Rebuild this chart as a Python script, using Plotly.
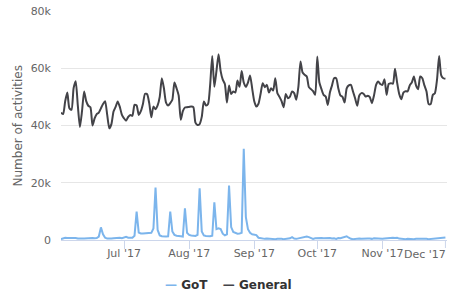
import pandas as pd
import plotly.graph_objects as go

start_date = "2017-06-01"

# Daily activity counts, in thousands, Jun 1 - Dec 1 2017
general_k = [
    44.5, 44.0, 48.5, 51.5, 46.0, 45.5, 53.0, 55.5, 47.0, 39.5,
    45.0, 51.9, 48.5, 46.9, 46.4, 40.0, 42.5, 44.0, 44.5, 46.0,
    47.5, 48.5, 43.7, 39.0, 40.5, 44.9, 46.5, 48.4, 46.5, 43.7,
    42.5, 41.7, 43.0, 43.7, 43.4, 47.2, 47.0, 43.7, 45.0, 47.5,
    51.1, 50.9, 47.8, 42.9, 46.6, 45.7, 47.0, 50.0, 56.5, 53.0,
    48.0, 47.0, 47.8, 49.0, 55.0, 53.0, 50.5, 42.0, 45.0, 46.3,
    46.4, 46.5, 46.6, 46.4, 41.0, 40.2, 40.5, 43.0, 48.4, 47.0,
    47.5, 54.2, 64.3, 53.5, 59.0, 64.9, 59.0, 56.0, 54.5, 48.0,
    54.0, 51.0, 51.9, 51.5, 55.7, 53.5, 59.0, 55.0, 53.5, 55.0,
    57.5, 53.0, 48.5, 46.6, 47.6, 51.0, 54.8, 53.4, 54.2, 51.5,
    53.0, 52.2, 56.5, 51.3, 50.0, 48.5, 46.4, 51.0, 49.5, 50.1,
    51.9, 51.3, 49.0, 53.5, 62.4, 58.5, 57.7, 57.1, 53.4, 52.7,
    52.0, 50.7, 64.1, 55.0, 52.7, 50.7, 50.1, 47.2, 51.5, 54.0,
    56.5, 56.5, 53.0, 50.5, 50.0, 48.0, 53.0, 54.0, 54.2, 51.9,
    49.5, 46.9, 50.5, 51.3, 51.1, 50.1, 50.4, 49.9, 47.8, 50.5,
    54.2, 55.4, 54.5, 54.2, 56.2, 50.7, 54.5, 54.8, 54.6, 59.8,
    55.0, 51.0, 49.2, 51.5, 52.0, 51.9, 54.0, 55.0, 57.1, 54.0,
    52.7, 57.1, 56.5, 54.0, 51.9, 47.5, 47.5, 50.7, 51.3, 56.0,
    64.3, 57.5, 56.5, 56.3,
]

got_k = [
    0.3, 0.6, 0.8, 0.7, 0.7, 0.8, 0.6, 0.7, 0.5, 0.6,
    0.5, 0.5, 0.6, 0.5, 0.6, 0.7, 0.6, 0.7, 1.2, 4.4,
    2.0, 0.8, 0.5, 0.4, 0.5, 0.6, 0.7, 0.9, 0.8, 0.6,
    0.9, 1.1, 0.8, 0.7, 0.8, 1.5, 9.9, 2.6, 2.3, 2.3,
    2.4, 2.3, 2.4, 2.5, 4.0, 18.3, 3.5, 1.6, 1.3, 1.2,
    1.2, 1.3, 9.9, 3.0, 1.8, 1.5, 1.5, 1.3, 1.2, 11.1,
    2.5, 1.8, 1.6, 1.5, 1.4, 1.8, 18.1, 3.0, 1.6, 1.4,
    1.3, 1.3, 1.5, 13.2, 3.8, 4.1, 3.8, 2.2, 1.6, 2.0,
    19.0, 4.5, 2.8, 2.5, 2.2, 2.3, 2.5, 31.9, 8.0, 3.8,
    2.5, 2.0, 1.8, 1.7, 0.8, 0.6, 0.5, 0.4, 0.5, 0.4,
    0.3, 0.4, 0.3, 0.4, 0.5, 0.4, 0.3, 0.4, 0.5, 0.6,
    1.0, 0.5, 0.4, 0.6, 0.7, 0.9, 1.1, 1.2, 1.0, 0.6,
    0.4, 0.6, 0.7, 0.8, 0.7, 0.6, 0.7, 0.6, 0.7, 0.5,
    0.6, 0.4, 0.7, 0.6, 0.9, 1.2, 1.3, 0.8, 0.4, 0.3,
    0.4, 0.3, 0.5, 0.4, 0.5, 0.4, 0.5, 0.5, 0.4, 0.6,
    0.5, 0.4, 0.5, 0.4, 0.5, 0.6, 0.7, 0.8, 0.8, 0.7,
    0.8, 0.5, 0.4, 0.3, 0.3, 0.4, 0.3, 0.4, 0.3, 0.4,
    0.5, 0.4, 0.4, 0.5, 0.4, 0.3, 0.4, 0.5, 0.4, 0.5,
    0.6, 0.7, 0.8, 0.9,
]

series_names = ["GoT", "General"]
series_colors = ["#7cb5ec", "#434348"]
tick_dates = ["2017-07-01", "2017-08-01", "2017-09-01", "2017-10-01", "2017-11-01"]
tick_labels = ["Jul '17", "Aug '17", "Sep '17", "Oct '17", "Nov '17"]
last_tick_date = "2017-12-01"
last_tick_label = "Dec '17"
y_ticks = [0, 20000, 40000, 60000, 80000]
y_tick_labels = ["0", "20k", "40k", "60k", "80k"]
y_title = "Number of activities"

dates = pd.date_range(start_date, periods=len(general_k), freq="D")
general = [v * 1000 for v in general_k]
got = [v * 1000 for v in got_k]

FONT = "DejaVu Sans"

fig = go.Figure()
fig.add_trace(go.Scatter(
    x=dates, y=got, mode="lines", name=series_names[0],
    line=dict(color=series_colors[0], width=2),
))
fig.add_trace(go.Scatter(
    x=dates, y=general, mode="lines", name=series_names[1],
    line=dict(color=series_colors[1], width=2, shape="spline", smoothing=0.6),
))

legend_text = "    ".join(
    f"<b><span style='color:{c}'>—</span> {n}</b>"
    for n, c in zip(series_names, series_colors)
)

fig.update_layout(
    width=449, height=297,
    margin=dict(l=61, r=2, t=11, b=57),
    paper_bgcolor="white", plot_bgcolor="white",
    font=dict(family=FONT, size=11, color="#666666"),
    showlegend=False,
    xaxis=dict(
        type="date",
        range=["2017-06-01 00:00", "2017-12-01 18:00"],
        tickvals=tick_dates, ticktext=tick_labels,
        showgrid=False, zeroline=False,
        showline=True, linecolor="#ccd6eb", linewidth=1,
        ticks="outside", ticklen=8, tickcolor="#ccd6eb", tickwidth=1,
        ticklabelstandoff=-5,
        tickfont=dict(family=FONT, size=11, color="#666666"),
    ),
    yaxis=dict(
        range=[0, 80000],
        tickvals=y_ticks, ticktext=y_tick_labels,
        showgrid=True, gridcolor="#e6e6e6", gridwidth=1,
        zeroline=False, showline=False, ticks="",
        ticklabelstandoff=9,
        tickfont=dict(family=FONT, size=11, color="#666666"),
    ),
    annotations=[
        dict(
            text=y_title, textangle=-90, xref="paper", yref="paper",
            x=(17 - 61) / 386, y=0.5, xanchor="center", yanchor="middle",
            showarrow=False, font=dict(family=FONT, size=12, color="#666666"),
        ),
        dict(
            text=last_tick_label, xref="x", yref="paper",
            x=last_tick_date, y=0, yshift=-14, xanchor="right", xshift=3,
            yanchor="middle", showarrow=False,
            font=dict(family=FONT, size=11, color="#666666"),
        ),
        dict(
            text=legend_text, xref="paper", yref="paper",
            x=(228 - 61) / 386, y=-(285 - 240) / 229,
            xanchor="center", yanchor="middle", showarrow=False,
            font=dict(family=FONT, size=12, color="#333333"),
        ),
    ],
    shapes=[
        dict(type="line", xref="x", yref="paper", x0=last_tick_date, x1=last_tick_date,
             y0=0, y1=-8 / 229, line=dict(color="#ccd6eb", width=1)),
    ],
)

fig.write_html(
    "out.html",
    config={"displayModeBar": False},
    post_script="document.body.style.margin='0';document.body.style.overflow='hidden';",
)
